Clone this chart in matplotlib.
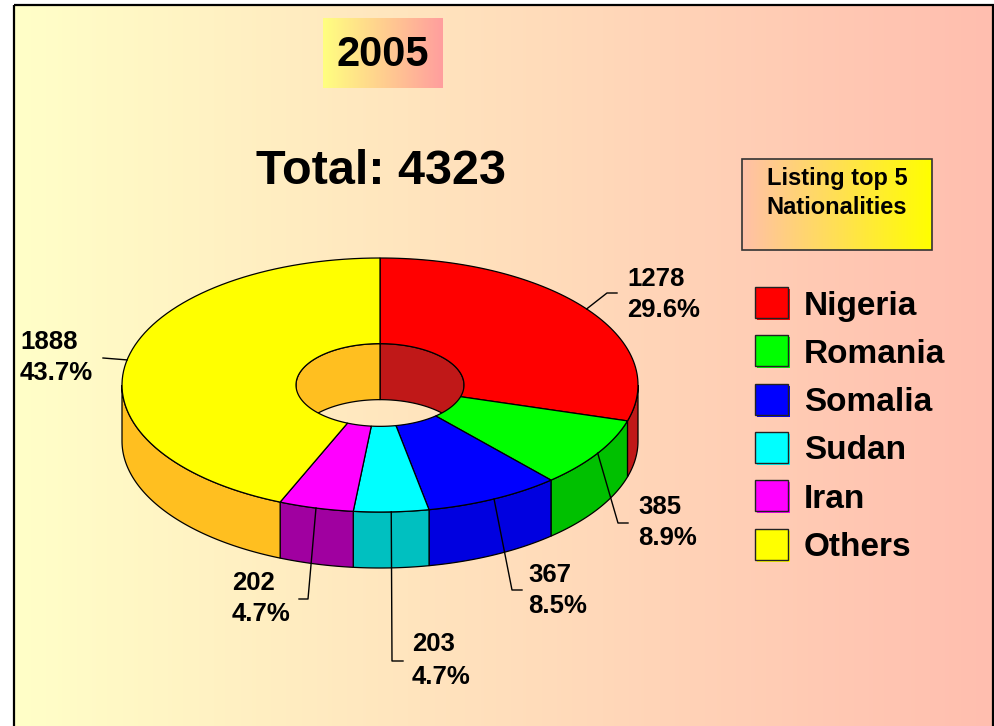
import numpy as np
import matplotlib
matplotlib.use("Agg")
import matplotlib.pyplot as plt
from matplotlib.patches import Polygon, Rectangle
from matplotlib.colors import LinearSegmentedColormap

# ---------------- data ----------------
year = "2005"
nationalities = ["Nigeria", "Romania", "Somalia", "Sudan", "Iran", "Others"]
counts = [1278, 385, 367, 203, 202, 1888]
top_colors = ["#FF0000", "#00FF00", "#0000FF", "#00FFFF", "#FF00FF", "#FFFF00"]
side_colors = ["#C01818", "#00C000", "#0000E0", "#00C0C0", "#A000A0", "#FFBF20"]
note_text = "Listing top 5\nNationalities"

# ---------------- layout ----------------
W, H = 995, 726
cx, cy, rx, ry = 380, 385, 258, 127     # top ellipse of the donut
inner = 84 / 258                        # hole ratio
depth = 56                              # thickness of the donut
label_pos = [(627, 279, 310), (638, 507, 538), (528, 575, 606),
             (412, 644, 677), (232, 583, 614), (20, 342, 373)]
leader_pts = [[(607, 293), (617, 293)], [(618, 523), (628, 523)],
              [(512, 590), (522, 590)], [(392, 661), (403, 661)],
              [(308, 599), (299, 599)], [(103, 358)]]

plt.rcParams["font.family"] = ["Liberation Sans", "DejaVu Sans"]

fig = plt.figure(figsize=(W / 100, H / 100), dpi=100)
ax = fig.add_axes([0, 0, 1, 1])
ax.set_xlim(0, W)
ax.set_ylim(H, 0)
ax.axis("off")


def hgrad(x0, x1, y0, y1, c0, c1, z):
    cmap = LinearSegmentedColormap.from_list("g", [c0, c1])
    g = np.linspace(0, 1, 256).reshape(1, -1)
    ax.imshow(g, cmap=cmap, extent=[x0, x1, y1, y0], aspect="auto",
              zorder=z, interpolation="bilinear")


# background + frame
hgrad(14, 993, 5, H + 10, "#FFFFC8", "#FFBEAF", 0)
ax.add_patch(Rectangle((14, 5), 979, H + 20, fill=False, ec="black", lw=1.6, zorder=1))
ax.set_xlim(0, W)
ax.set_ylim(H, 0)


def pt(r, a, dz=0.0):
    a = np.radians(a)
    return cx + r * rx * np.cos(a), cy - r * ry * np.sin(a) + dz


total = sum(counts)
cum = np.concatenate([[0], np.cumsum(counts)])
starts = 90 - 360 * cum[:-1] / total
ends = 90 - 360 * cum[1:] / total


def arc(r, a0, a1, dz=0.0, n=80):
    t = np.linspace(a0, a1, n)
    x, y = pt(r, t, dz)
    return list(zip(x, y))


def clip(a_hi, a_lo, lo, hi):
    return max(a_lo, lo), min(a_hi, hi)


# inner back wall (visible through hole)
for i in range(len(counts)):
    for lo, hi in [(0, 90), (-270, -180)]:
        l, h = clip(starts[i], ends[i], lo, hi)
        if h > l:
            poly = arc(inner, l, h) + arc(inner, h, l, depth)
            ax.add_patch(Polygon(poly, closed=True, fc=side_colors[i], ec="black",
                                 lw=0.9, zorder=3))

# outer front side
for i in range(len(counts)):
    l, h = clip(starts[i], ends[i], -180, 0)
    if h > l:
        poly = arc(1, l, h) + arc(1, h, l, depth)
        ax.add_patch(Polygon(poly, closed=True, fc=side_colors[i], ec="black",
                             lw=0.9, zorder=3))

# top faces
for i in range(len(counts)):
    poly = arc(1, starts[i], ends[i]) + arc(inner, ends[i], starts[i])
    ax.add_patch(Polygon(poly, closed=True, fc=top_colors[i], ec="black",
                         lw=0.9, zorder=4))

# labels + leader lines
for i, c in enumerate(counts):
    mid = (starts[i] + ends[i]) / 2
    x0, y0 = pt(1, mid)
    pts = [(x0, y0)] + leader_pts[i]
    ax.plot([p[0] for p in pts], [p[1] for p in pts], color="black", lw=1.0, zorder=6)
    lx, ly1, ly2 = label_pos[i]
    ax.text(lx, ly1, f"{c}", fontsize=18.5, fontweight="bold", ha="left", va="center", zorder=7)
    ax.text(lx, ly2, f"{100 * c / total:.1f}%", fontsize=18.5, fontweight="bold",
            ha="left", va="center", zorder=7)

# year box
hgrad(323, 443, 18, 88, "#FFFF80", "#FF9E9E", 2)
ax.text(383, 55, year, fontsize=30, fontweight="bold", ha="center", va="center", zorder=7)

# total
ax.text(381, 171, f"Total: {total}", fontsize=35, fontweight="bold",
        ha="center", va="center", zorder=7)

# note box
hgrad(742, 932, 159, 250, "#FFC0A8", "#FFFF00", 2)
ax.add_patch(Rectangle((742, 159), 190, 91, fill=False, ec="#333333", lw=1.2, zorder=5))
ax.text(837, 193, note_text, fontsize=17, fontweight="bold", ha="center",
        va="center", linespacing=1.3, zorder=7)

# legend
for i, name in enumerate(nationalities):
    yc = 303 + i * 48.3
    ax.add_patch(Rectangle((757, yc - 14), 33, 31, fc=top_colors[i], ec="none", zorder=5))
    ax.add_patch(Rectangle((755, yc - 16), 33, 31, fc=top_colors[i], ec="#222222", lw=1.0, zorder=6))
    ax.text(804, yc + 3, name, fontsize=24, fontweight="bold", ha="left", va="center", zorder=7)

fig.savefig("out.png", dpi=100)
